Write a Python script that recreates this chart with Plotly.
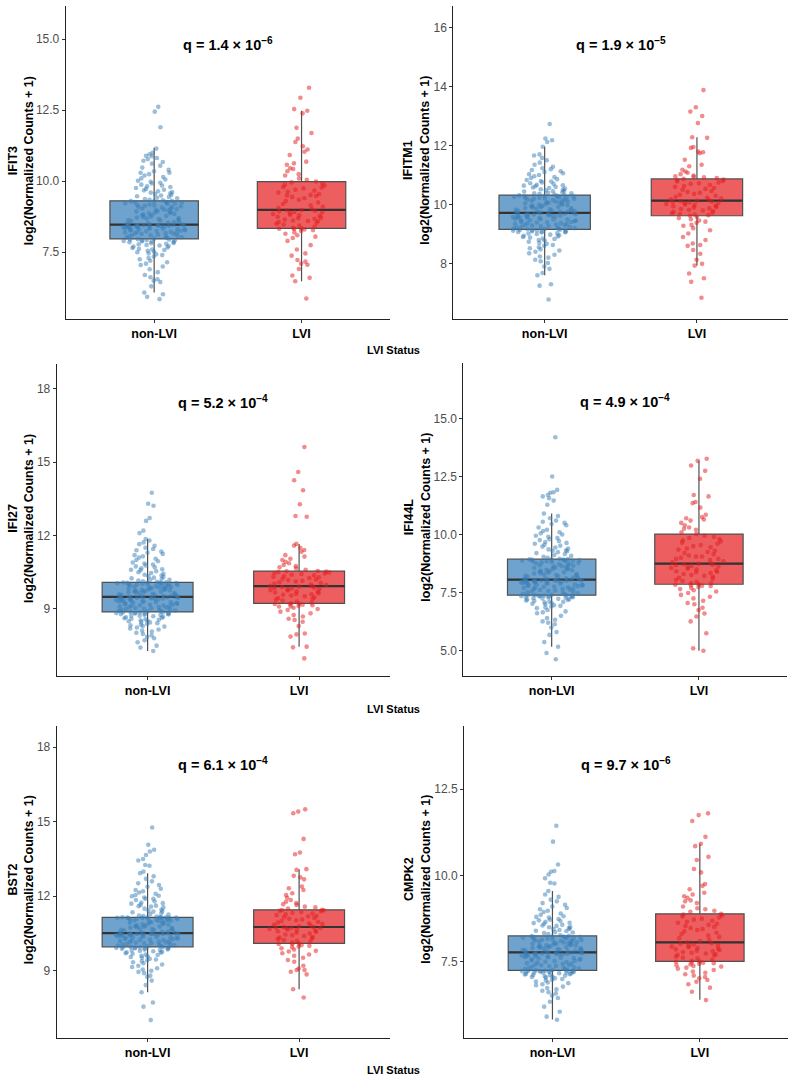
import plotly.graph_objects as go

# ---------------- data ----------------
categories = ["non-LVI", "LVI"]
genes = ["IFIT3", "IFITM1", "IFI27", "IFI44L", "BST2", "CMPK2"]
q_labels = ["1.4 × 10<sup>−6</sup>", "1.9 × 10<sup>−5</sup>", "5.2 × 10<sup>−4</sup>",
            "4.9 × 10<sup>−4</sup>", "6.1 × 10<sup>−4</sup>", "9.7 × 10<sup>−6</sup>"]

# box stats: [lower whisker, q1, median, q3, upper whisker]
IFIT3_non_box = [6.08, 7.97, 8.47, 9.31, 11.18]
IFIT3_lvi_box = [6.48, 8.34, 8.99, 9.99, 12.48]
IFITM1_non_box = [7.60, 9.16, 9.72, 10.32, 11.96]
IFITM1_lvi_box = [7.93, 9.62, 10.13, 10.87, 12.28]
IFI27_non_box = [7.28, 8.88, 9.49, 10.09, 11.86]
IFI27_lvi_box = [7.46, 9.23, 9.93, 10.55, 11.66]
IFI44L_non_box = [5.17, 7.39, 8.06, 8.94, 10.90]
IFI44L_lvi_box = [5.00, 7.86, 8.75, 10.02, 13.17]
BST2_non_box = [8.13, 9.96, 10.51, 11.15, 12.93]
BST2_lvi_box = [8.25, 10.10, 10.76, 11.45, 13.09]
CMPK2_non_box = [5.83, 7.25, 7.77, 8.25, 9.55]
CMPK2_lvi_box = [6.40, 7.51, 8.06, 8.89, 10.92]

IFIT3_non = [
5.85,5.93,6.02,6.08,6.3,6.45,6.5,6.55,6.62,6.7,6.8,6.9,7.0,7.05,7.1,7.15,7.2,7.25,7.3,7.35,7.4,7.43,7.46,7.5,7.52,7.55,7.58,7.6,7.62,7.65,7.67,7.7,7.72,7.74,7.76,7.78,7.8,7.82,7.83,7.85,7.86,7.88,7.89,7.9,7.91,7.92,7.93,7.94,7.95,7.96,
7.98,8.0,8.02,8.03,8.05,8.06,8.08,8.1,8.1,8.12,8.14,8.15,8.16,8.18,8.19,8.2,8.21,8.22,8.24,8.25,8.26,8.27,8.28,8.29,8.3,8.31,8.32,8.33,8.34,8.35,8.36,8.37,8.38,8.38,8.39,8.4,8.41,8.42,8.42,8.43,8.44,8.44,8.45,8.45,8.46,8.46,8.47,8.47,8.47,8.48,
8.5,8.52,8.54,8.56,8.58,8.6,8.62,8.63,8.65,8.67,8.69,8.7,8.72,8.74,8.76,8.78,8.8,8.81,8.83,8.85,8.87,8.88,8.9,8.92,8.94,8.95,8.97,8.99,9.0,9.02,9.04,9.05,9.07,9.09,9.1,9.12,9.14,9.15,9.17,9.18,9.2,9.22,9.23,9.25,9.26,9.27,9.28,9.29,9.3,9.31,
9.33,9.35,9.37,9.4,9.42,9.45,9.47,9.5,9.52,9.55,9.58,9.6,9.62,9.65,9.68,9.7,9.73,9.76,9.8,9.82,9.85,9.88,9.92,9.95,9.98,10.02,10.06,10.1,10.15,10.2,10.25,10.3,10.35,10.4,10.48,10.55,10.62,10.68,10.72,10.78,10.82,10.88,10.9,10.95,11.0,11.15,11.9,12.45,12.62,10.3]
IFIT3_lvi = [
5.87,6.48,6.6,6.68,6.91,7.06,7.1,7.17,7.23,7.38,7.46,7.6,7.75,7.9,8.0,8.05,8.1,8.15,8.2,8.25,8.28,8.3,8.32,8.33,8.34,
8.36,8.4,8.44,8.48,8.5,8.53,8.56,8.6,8.62,8.65,8.68,8.7,8.72,8.75,8.78,8.8,8.82,8.85,8.87,8.9,8.92,8.94,8.96,8.98,8.99,
9.02,9.06,9.1,9.15,9.2,9.25,9.3,9.35,9.4,9.45,9.48,9.52,9.55,9.6,9.63,9.67,9.7,9.75,9.78,9.8,9.85,9.88,9.92,9.96,9.99,
10.05,10.2,10.25,10.43,10.46,10.58,10.63,10.69,10.92,11.04,11.12,11.23,11.38,11.5,11.7,11.88,12.39,12.48,12.54,12.94,13.29,10.1,10.35,9.5,8.6]

IFITM1_non = [
6.78,7.25,7.3,7.6,7.68,7.82,7.9,8.02,8.08,8.13,8.2,8.24,8.3,8.35,8.4,8.44,8.48,8.52,8.55,8.6,8.63,8.67,8.7,8.74,8.78,8.8,8.83,8.85,8.88,8.9,8.92,8.94,8.96,8.98,9.0,9.02,9.03,9.05,9.06,9.07,9.08,9.09,9.1,9.11,9.12,9.12,9.13,9.14,9.15,9.16,
9.17,9.18,9.19,9.2,9.21,9.22,9.24,9.25,9.26,9.27,9.29,9.3,9.31,9.32,9.34,9.35,9.36,9.37,9.39,9.4,9.41,9.42,9.44,9.45,9.46,9.47,9.49,9.5,9.51,9.52,9.54,9.55,9.56,9.57,9.58,9.59,9.6,9.61,9.62,9.63,9.64,9.65,9.66,9.67,9.68,9.69,9.7,9.7,9.71,9.72,
9.73,9.74,9.75,9.76,9.78,9.79,9.8,9.82,9.83,9.84,9.86,9.87,9.88,9.9,9.91,9.92,9.94,9.95,9.96,9.98,9.99,10.0,10.02,10.03,10.04,10.06,10.07,10.08,10.1,10.11,10.12,10.14,10.15,10.16,10.18,10.19,10.2,10.21,10.22,10.23,10.24,10.25,10.26,10.27,10.28,10.29,10.3,10.3,10.31,10.32,
10.34,10.36,10.38,10.4,10.42,10.44,10.46,10.48,10.5,10.52,10.54,10.56,10.58,10.6,10.62,10.65,10.67,10.7,10.72,10.75,10.78,10.8,10.83,10.86,10.9,10.93,10.96,11.0,11.03,11.06,11.1,11.13,11.17,11.2,11.23,11.28,11.35,11.42,11.5,11.58,11.66,11.7,11.96,12.12,12.18,12.24,12.73,10.45,10.64,10.38]
IFITM1_lvi = [
6.84,7.38,7.5,7.66,7.93,7.99,8.13,8.33,8.46,8.6,8.63,8.68,8.8,8.9,9.02,9.13,9.2,9.31,9.38,9.42,9.46,9.5,9.54,9.58,9.62,
9.64,9.66,9.68,9.7,9.72,9.75,9.78,9.8,9.82,9.85,9.87,9.9,9.92,9.94,9.96,9.98,10.0,10.02,10.04,10.05,10.07,10.09,10.1,10.12,10.13,
10.15,10.18,10.2,10.23,10.26,10.3,10.33,10.36,10.4,10.43,10.46,10.5,10.53,10.56,10.6,10.63,10.66,10.7,10.72,10.75,10.78,10.8,10.83,10.85,10.87,
10.9,10.94,10.98,11.03,11.12,11.18,11.3,11.35,11.52,11.74,11.77,11.8,11.92,11.95,12.26,12.28,12.76,13.0,13.15,13.3,13.88,10.92,11.08,10.96,9.28]

IFI27_non = [
7.28,7.42,7.5,7.64,7.72,7.8,7.86,7.92,7.98,8.03,8.08,8.12,8.16,8.2,8.24,8.28,8.3,8.33,8.36,8.39,8.42,8.45,8.47,8.5,8.52,8.54,8.56,8.58,8.6,8.62,8.64,8.66,8.68,8.7,8.72,8.73,8.75,8.76,8.78,8.79,8.8,8.81,8.82,8.83,8.84,8.85,8.86,8.86,8.87,8.88,
8.9,8.91,8.93,8.94,8.96,8.97,8.99,9.0,9.01,9.03,9.04,9.06,9.07,9.08,9.1,9.11,9.13,9.14,9.15,9.17,9.18,9.2,9.21,9.22,9.24,9.25,9.27,9.28,9.29,9.31,9.32,9.33,9.35,9.36,9.37,9.38,9.4,9.41,9.42,9.43,9.44,9.45,9.46,9.46,9.47,9.47,9.48,9.48,9.49,9.49,
9.5,9.51,9.53,9.54,9.55,9.57,9.58,9.6,9.61,9.62,9.64,9.65,9.67,9.68,9.69,9.71,9.72,9.74,9.75,9.76,9.78,9.79,9.8,9.82,9.83,9.85,9.86,9.87,9.89,9.9,9.91,9.93,9.94,9.95,9.97,9.98,9.99,10.0,10.01,10.02,10.03,10.04,10.05,10.06,10.06,10.07,10.07,10.08,10.08,10.09,
10.11,10.13,10.16,10.19,10.22,10.25,10.28,10.31,10.34,10.37,10.4,10.44,10.47,10.5,10.54,10.58,10.62,10.66,10.7,10.74,10.78,10.82,10.86,10.9,10.95,11.0,11.05,11.1,11.15,11.2,11.25,11.3,11.35,11.4,11.45,11.5,11.58,11.65,11.72,11.8,11.86,12.1,12.2,12.6,12.72,13.22,13.3,13.75,10.2,10.6]
IFI27_lvi = [
6.98,7.43,7.46,7.87,7.96,8.0,8.3,8.48,8.55,8.6,8.69,8.75,8.82,8.89,8.96,9.0,9.05,9.1,9.12,9.15,9.17,9.19,9.2,9.22,9.23,
9.26,9.3,9.34,9.38,9.42,9.45,9.48,9.52,9.55,9.58,9.61,9.64,9.67,9.7,9.72,9.75,9.77,9.8,9.82,9.84,9.86,9.88,9.9,9.92,9.93,
9.95,9.98,10.0,10.03,10.06,10.09,10.12,10.15,10.18,10.2,10.23,10.26,10.29,10.32,10.35,10.38,10.4,10.43,10.45,10.47,10.49,10.51,10.53,10.54,10.55,
10.6,10.66,10.8,10.87,10.93,11.0,11.14,11.2,11.34,11.41,11.5,11.59,11.66,12.77,12.8,13.28,13.85,14.26,14.6,15.62,10.7,11.05,10.75,9.6,9.1]

IFI44L_non = [
4.63,4.9,5.17,5.37,5.68,5.8,6.0,6.14,6.2,6.26,6.33,6.4,6.5,6.61,6.65,6.69,6.75,6.83,6.86,6.9,6.93,6.96,7.0,7.02,7.05,7.08,7.1,7.12,7.14,7.16,7.18,7.2,7.22,7.23,7.25,7.26,7.28,7.29,7.3,7.31,7.32,7.33,7.34,7.35,7.36,7.36,7.37,7.38,7.38,7.39,
7.41,7.43,7.45,7.47,7.49,7.51,7.53,7.55,7.57,7.59,7.61,7.63,7.65,7.66,7.68,7.7,7.71,7.73,7.75,7.76,7.78,7.79,7.81,7.82,7.84,7.85,7.86,7.88,7.89,7.9,7.92,7.93,7.94,7.95,7.96,7.97,7.98,7.99,8.0,8.01,8.02,8.02,8.03,8.03,8.04,8.04,8.05,8.05,8.06,8.06,
8.08,8.1,8.12,8.14,8.16,8.18,8.2,8.22,8.24,8.26,8.28,8.3,8.32,8.34,8.36,8.38,8.4,8.42,8.44,8.46,8.48,8.5,8.52,8.54,8.56,8.58,8.6,8.62,8.64,8.66,8.68,8.7,8.72,8.74,8.76,8.78,8.8,8.82,8.84,8.85,8.86,8.87,8.88,8.89,8.9,8.91,8.92,8.93,8.93,8.94,
8.96,9.0,9.04,9.08,9.12,9.16,9.2,9.24,9.28,9.32,9.36,9.4,9.44,9.48,9.52,9.56,9.6,9.64,9.68,9.72,9.76,9.8,9.85,9.9,9.95,10.0,10.05,10.1,10.15,10.2,10.3,10.4,10.45,10.5,10.55,10.6,10.7,10.8,10.9,11.28,11.46,11.56,11.64,11.7,11.8,11.82,11.92,12.5,14.19,9.3]
IFI44L_lvi = [
5.0,5.1,5.75,6.26,6.47,6.6,6.75,6.85,7.0,7.05,7.15,7.25,7.32,7.4,7.48,7.55,7.6,7.65,7.7,7.74,7.78,7.8,7.82,7.84,7.86,
7.9,7.95,8.0,8.05,8.1,8.14,8.18,8.22,8.26,8.3,8.34,8.38,8.42,8.46,8.5,8.53,8.56,8.59,8.62,8.65,8.68,8.7,8.72,8.74,8.75,
8.8,8.85,8.9,8.95,9.0,9.05,9.1,9.15,9.2,9.25,9.3,9.35,9.4,9.45,9.5,9.55,9.6,9.65,9.7,9.75,9.8,9.85,9.9,9.95,10.02,
10.1,10.2,10.3,10.4,10.5,10.6,10.7,10.75,10.85,11.16,11.35,11.4,11.64,11.7,12.4,12.74,12.97,13.17,13.26,10.25,10.65,9.05,8.4,7.9,8.95]

BST2_non = [
7.01,7.55,7.72,8.13,8.42,8.6,8.75,8.8,8.9,8.95,9.0,9.05,9.1,9.15,9.2,9.25,9.3,9.34,9.38,9.42,9.45,9.48,9.52,9.55,9.58,9.6,9.63,9.65,9.68,9.7,9.72,9.74,9.76,9.78,9.8,9.82,9.83,9.85,9.86,9.88,9.89,9.9,9.91,9.92,9.93,9.94,9.94,9.95,9.95,9.96,
9.98,9.99,10.01,10.02,10.04,10.05,10.07,10.08,10.1,10.11,10.13,10.14,10.16,10.17,10.18,10.2,10.21,10.23,10.24,10.25,10.27,10.28,10.3,10.31,10.32,10.34,10.35,10.36,10.38,10.39,10.4,10.41,10.42,10.43,10.44,10.45,10.46,10.47,10.47,10.48,10.48,10.49,10.49,10.5,10.5,10.5,10.51,10.51,10.51,10.51,
10.53,10.55,10.57,10.58,10.6,10.62,10.63,10.65,10.67,10.68,10.7,10.72,10.73,10.75,10.77,10.78,10.8,10.82,10.83,10.85,10.87,10.88,10.9,10.92,10.93,10.95,10.97,10.98,11.0,11.01,11.02,11.04,11.05,11.06,11.07,11.08,11.09,11.1,11.11,11.12,11.12,11.13,11.13,11.14,11.14,11.14,11.15,11.15,11.15,11.15,
11.18,11.22,11.26,11.3,11.35,11.4,11.45,11.5,11.55,11.6,11.65,11.7,11.75,11.8,11.85,11.9,11.95,12.0,12.05,12.1,12.15,12.2,12.25,12.3,12.38,12.45,12.52,12.6,12.7,12.8,12.93,12.99,13.23,13.26,13.44,13.5,13.66,13.8,13.87,14.07,14.77,11.28,11.42,11.58,11.72,12.02,11.38,11.62,11.2,11.9]
BST2_lvi = [
7.92,8.25,8.85,8.96,9.03,9.03,9.09,9.2,9.36,9.43,9.52,9.6,9.65,9.7,9.77,9.8,9.85,9.9,9.94,9.97,10.0,10.03,10.06,10.08,10.1,
10.13,10.17,10.2,10.23,10.27,10.3,10.33,10.36,10.4,10.43,10.46,10.5,10.53,10.56,10.59,10.62,10.64,10.66,10.68,10.7,10.72,10.73,10.74,10.75,10.76,
10.79,10.82,10.85,10.88,10.91,10.94,10.97,11.0,11.03,11.06,11.09,11.12,11.15,11.18,11.21,11.24,11.27,11.3,11.33,11.36,11.39,11.41,11.43,11.44,11.45,
11.5,11.58,11.65,11.72,11.85,11.94,12.12,12.25,12.32,12.39,12.68,12.76,12.82,13.06,13.09,13.69,13.76,14.31,15.34,15.41,15.5,11.55,11.78,12.05,11.68]

CMPK2_non = [
5.82,5.91,6.05,6.2,6.34,6.45,6.52,6.58,6.62,6.66,6.7,6.74,6.78,6.82,6.85,6.88,6.9,6.93,6.96,6.98,7.0,7.02,7.04,7.06,7.07,7.08,7.1,7.11,7.12,7.13,7.14,7.15,7.16,7.17,7.18,7.18,7.19,7.2,7.2,7.21,7.21,7.22,7.22,7.23,7.23,7.24,7.24,7.24,7.25,7.25,
7.26,7.28,7.29,7.3,7.32,7.33,7.34,7.36,7.37,7.38,7.4,7.41,7.42,7.44,7.45,7.46,7.48,7.49,7.5,7.52,7.53,7.54,7.56,7.57,7.58,7.6,7.61,7.62,7.63,7.64,7.65,7.66,7.67,7.68,7.69,7.7,7.71,7.72,7.72,7.73,7.73,7.74,7.74,7.75,7.75,7.76,7.76,7.76,7.77,7.77,
7.78,7.79,7.8,7.81,7.82,7.83,7.84,7.85,7.86,7.87,7.88,7.89,7.9,7.91,7.92,7.93,7.94,7.95,7.96,7.97,7.98,7.99,8.0,8.01,8.02,8.03,8.04,8.05,8.06,8.07,8.08,8.09,8.1,8.11,8.12,8.13,8.14,8.15,8.16,8.17,8.18,8.19,8.2,8.21,8.22,8.22,8.23,8.23,8.24,8.25,
8.27,8.3,8.33,8.36,8.39,8.42,8.45,8.48,8.51,8.54,8.57,8.6,8.63,8.66,8.7,8.74,8.78,8.82,8.86,8.9,8.94,8.98,9.02,9.06,9.1,9.15,9.2,9.25,9.3,9.38,9.45,9.55,9.77,9.79,9.92,10.03,10.11,10.13,10.32,10.98,11.44,8.5,8.8,8.4,8.35,8.55,8.68,8.45,8.62,8.72]
CMPK2_lvi = [
6.39,6.63,6.75,6.85,6.92,6.97,7.02,7.06,7.1,7.14,7.18,7.22,7.26,7.3,7.33,7.36,7.38,7.4,7.42,7.44,7.46,7.47,7.48,7.5,7.51,
7.53,7.56,7.59,7.62,7.65,7.68,7.7,7.72,7.74,7.76,7.78,7.8,7.82,7.84,7.86,7.88,7.9,7.92,7.94,7.96,7.98,8.0,8.02,8.04,8.06,
8.1,8.14,8.18,8.22,8.26,8.3,8.34,8.38,8.42,8.45,8.48,8.51,8.54,8.57,8.6,8.63,8.66,8.69,8.72,8.75,8.78,8.81,8.84,8.87,8.89,
8.95,9.02,9.1,9.2,9.28,9.35,9.4,9.45,9.5,9.7,9.75,10.09,10.19,10.45,10.54,10.85,10.92,11.12,11.58,11.75,11.8,9.05,9.25,9.6,8.98]

# y-axis ranges and tick labels per panel
y_ranges = [[5.14, 16.17], [6.11, 16.73], [6.26, 19.0], [3.91, 17.37], [6.30, 18.87], [5.30, 14.34]]
y_ticks = [[7.5, 10.0, 12.5, 15.0], [8, 10, 12, 14, 16], [9, 12, 15, 18],
           [5.0, 7.5, 10.0, 12.5, 15.0], [9, 12, 15, 18], [7.5, 10.0, 12.5]]
y_tickformat = [".1f", "d", "d", ".1f", "d", ".1f"]

non_vals = [IFIT3_non, IFITM1_non, IFI27_non, IFI44L_non, BST2_non, CMPK2_non]
lvi_vals = [IFIT3_lvi, IFITM1_lvi, IFI27_lvi, IFI44L_lvi, BST2_lvi, CMPK2_lvi]
non_box = [IFIT3_non_box, IFITM1_non_box, IFI27_non_box, IFI44L_non_box, BST2_non_box, CMPK2_non_box]
lvi_box = [IFIT3_lvi_box, IFITM1_lvi_box, IFI27_lvi_box, IFI44L_lvi_box, BST2_lvi_box, CMPK2_lvi_box]

# ---------------- layout geometry (pixels) ----------------
W, H = 794, 1081
# (left, right, top, bottom) of each plotting area
panel_px = [(65.7, 390, 6, 319.3), (453.3, 788.3, 6, 319.3),
            (56.7, 390, 364.3, 676), (463.3, 787.3, 363.3, 676),
            (56.7, 390, 725.7, 1037.7), (464, 788.3, 725.7, 1037.7)]
ytitle_x_px = [20.5, 416, 20.8, 417, 20.5, 417]
status_y_px = [350, 709, 1070]

FONT = "Liberation Sans, Arial, sans-serif"
fills = {"non-LVI": "rgba(55,126,184,0.72)", "LVI": "rgba(228,26,28,0.70)"}
pts = {"non-LVI": "rgba(55,126,184,0.5)", "LVI": "rgba(228,26,28,0.5)"}

fig = go.Figure()
layout = dict(width=W, height=H, margin=dict(l=0, r=0, t=0, b=0),
              paper_bgcolor="white", plot_bgcolor="white", showlegend=False,
              boxmode="overlay", font=dict(family=FONT))
annotations = []

for i, gene in enumerate(genes):
    sfx = "" if i == 0 else str(i + 1)
    xa, ya = "x" + sfx, "y" + sfx
    l, r, t, b = panel_px[i]
    for cat, stats in ((categories[0], non_box[i]), (categories[1], lvi_box[i])):
        fig.add_trace(go.Box(
            x=[cat], lowerfence=[stats[0]], q1=[stats[1]], median=[stats[2]],
            q3=[stats[3]], upperfence=[stats[4]], width=0.6, whiskerwidth=0,
            fillcolor=fills[cat], line=dict(color="#505050", width=1.2),
            boxpoints=False, hoverinfo="skip", xaxis=xa, yaxis=ya))
        m = stats[2]
        fig.add_trace(go.Box(
            x=[cat], lowerfence=[m], q1=[m], median=[m], q3=[m], upperfence=[m],
            width=0.6, whiskerwidth=0, fillcolor="rgba(0,0,0,0)",
            line=dict(color="#333333", width=2.2), boxpoints=False,
            hoverinfo="skip", xaxis=xa, yaxis=ya))
    for cat, vals in ((categories[0], non_vals[i]), (categories[1], lvi_vals[i])):
        fig.add_trace(go.Box(
            x=[cat] * len(vals), y=vals, boxpoints="all", jitter=0.7, pointpos=0,
            width=0.6, fillcolor="rgba(0,0,0,0)",
            line=dict(color="rgba(0,0,0,0)", width=0),
            marker=dict(color=pts[cat], size=4.6, line=dict(width=0)),
            hoverinfo="y", xaxis=xa, yaxis=ya))

    layout["xaxis" + sfx] = dict(
        domain=[l / W, r / W], anchor=ya, range=[-0.6, 1.6], type="category",
        categoryorder="array", categoryarray=categories,
        showline=True, linecolor="#222222", linewidth=1, showgrid=False, zeroline=False,
        ticks="outside", ticklen=3, tickcolor="#333333",
        tickfont=dict(family=FONT, size=12.5, color="black", weight="bold"))
    layout["yaxis" + sfx] = dict(
        domain=[1 - b / H, 1 - t / H], anchor=xa, range=y_ranges[i],
        tickvals=y_ticks[i], tickformat=y_tickformat[i],
        showline=True, linecolor="#222222", linewidth=1, showgrid=False, zeroline=False,
        ticks="outside", ticklen=3, tickcolor="#333333",
        tickfont=dict(family=FONT, size=12, color="#4d4d4d"))
    # y-axis title (two lines, rotated)
    annotations.append(dict(
        xref="paper", yref="paper", x=ytitle_x_px[i] / W, y=1 - ((t + b) / 2 - 2) / H,
        text=f"<b>{gene}</b><br><b>log2(Normalized Counts + 1)</b>", textangle=-90,
        showarrow=False, xanchor="center", yanchor="middle",
        font=dict(family=FONT, size=12.5, color="black")))
    # q-value label
    annotations.append(dict(
        xref=xa, yref=ya + " domain", x=0.5, y=1 - 38 / (b - t),
        text=f"<b>q = {q_labels[i]}</b>", showarrow=False,
        font=dict(family=FONT, size=14.5, color="black"), xanchor="center", yanchor="middle"))

for yp in status_y_px:
    annotations.append(dict(
        xref="paper", yref="paper", x=393 / W, y=1 - yp / H, text="<b>LVI Status</b>",
        showarrow=False, font=dict(family=FONT, size=11, color="black"),
        xanchor="center", yanchor="middle"))

layout["annotations"] = annotations
fig.update_layout(**layout)
fig.write_html("out.html")
